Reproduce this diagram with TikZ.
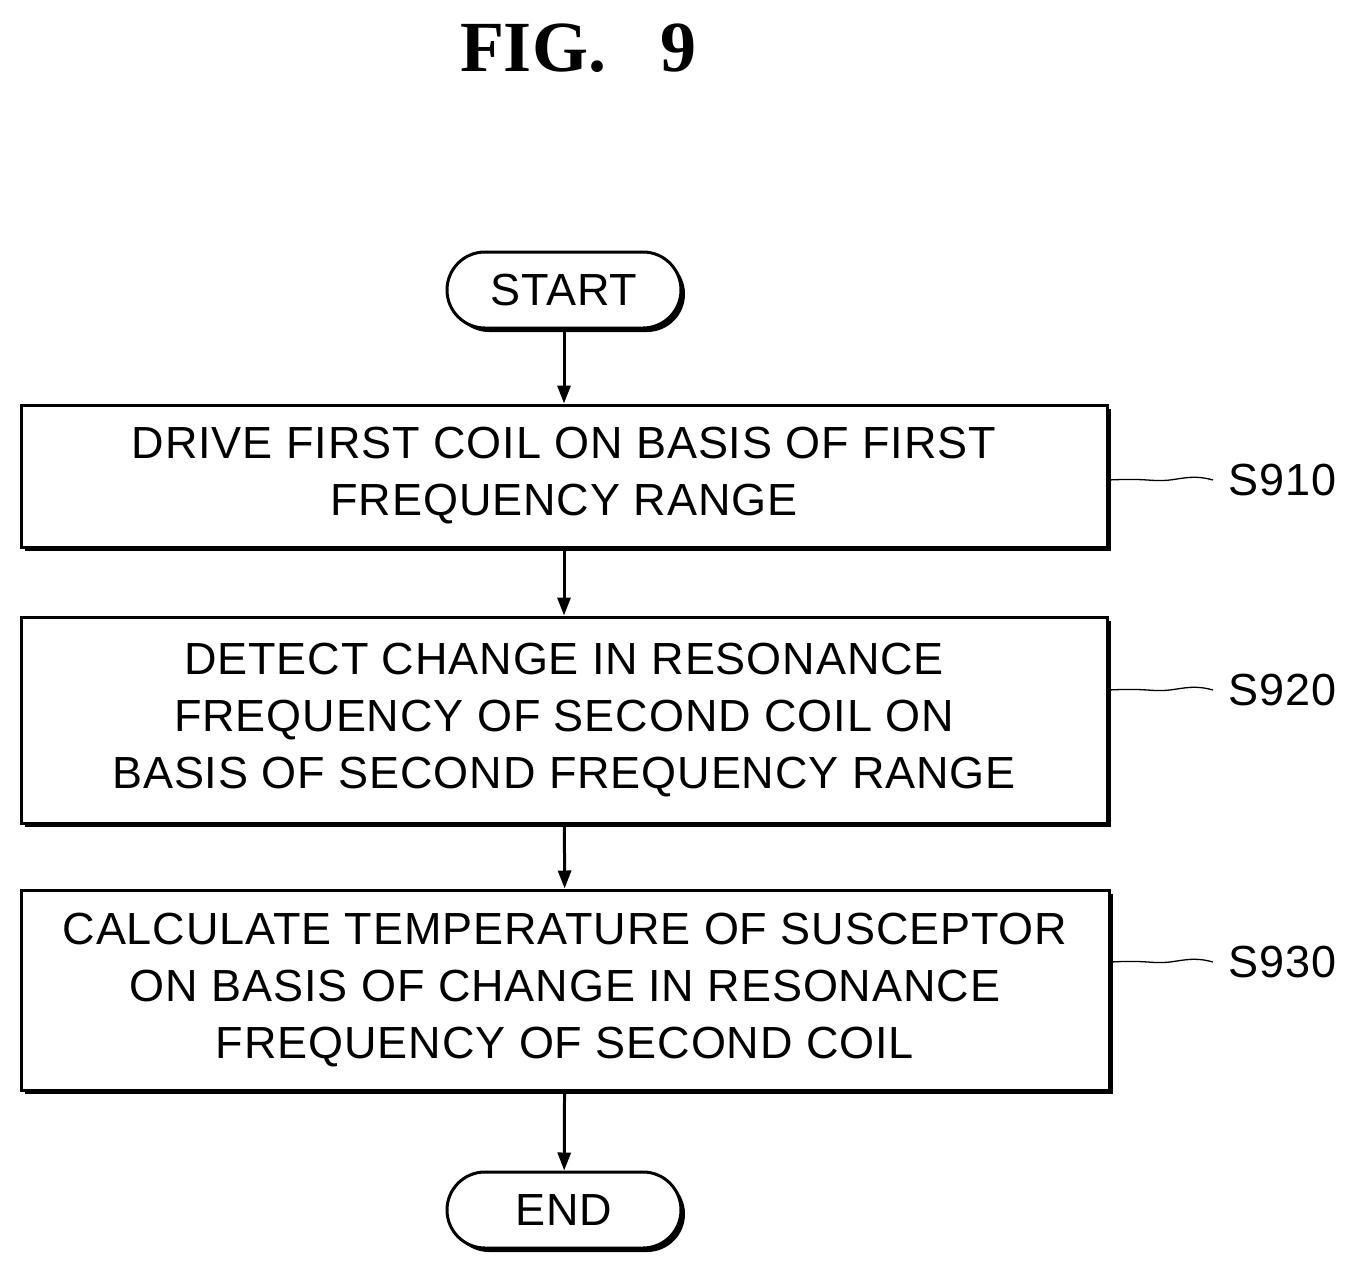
\documentclass[tikz,border=0pt]{standalone}
\usepackage{fontspec}
\setmainfont{Liberation Sans}[LetterSpace=2]
\newfontfamily\titlefont{Liberation Serif}
\usetikzlibrary{shadows,arrows.meta,decorations.pathmorphing}
\begin{document}
\begin{tikzpicture}[x=1pt,y=-1pt,
  box/.style={draw,line width=3pt,fill=white,inner sep=0pt,align=center,font=\fontsize{45}{57}\selectfont,
    drop shadow={shadow xshift=4pt,shadow yshift=-4pt,fill=black,opacity=1}},
  term/.style={box,rounded corners=38pt},
  arr/.style={line width=3pt,-{Triangle[length=18pt,width=13pt]}},
  lbl/.style={font=\fontsize{45}{54}\selectfont,anchor=west},
  wav/.style={line width=1.3pt}]
\useasboundingbox (0,0) rectangle (1360,1279);
\node[font=\titlefont\bfseries\fontsize{72}{80}\selectfont] (title) at (578,48) {FIG.\ \ \ 9};
\node[term,minimum width=234pt,minimum height=76pt] (start) at (564,290) {START};
\node[box,minimum width=1086pt,minimum height=142pt] (s1) at (564,476) {DRIVE FIRST COIL ON BASIS OF FIRST\\FREQUENCY RANGE};
\node[box,minimum width=1086pt,minimum height=206pt] (s2) at (564,720) {DETECT CHANGE IN RESONANCE\\FREQUENCY OF SECOND COIL ON\\BASIS OF SECOND FREQUENCY RANGE};
\node[box,minimum width=1088pt,minimum height=200pt] (s3) at (565,990) {CALCULATE TEMPERATURE OF SUSCEPTOR\\ON BASIS OF CHANGE IN RESONANCE\\FREQUENCY OF SECOND COIL};
\node[term,minimum width=234pt,minimum height=76pt] (end) at (564,1210) {END};
\draw[arr] (start) -- (s1);
\draw[arr] (s1) -- (s2);
\draw[arr] (s2) -- (s3);
\draw[arr] (s3) -- (end);
\node[lbl] (l1) at (1225,480) {S910};
\node[lbl] (l2) at (1225,690) {S920};
\node[lbl] (l3) at (1225,962) {S930};
\foreach \b/\l/\y in {s1/l1/480,s2/l2/690,s3/l3/962}{
  \draw[wav] (\b.east |- 0,\y) .. controls (1150,\y-2) and (1150,\y+2) .. (1170,\y) .. controls (1185,\y-2) and (1195,\y-5) .. ([xshift=-12pt]\l.west);
}
\end{tikzpicture}
\end{document}
